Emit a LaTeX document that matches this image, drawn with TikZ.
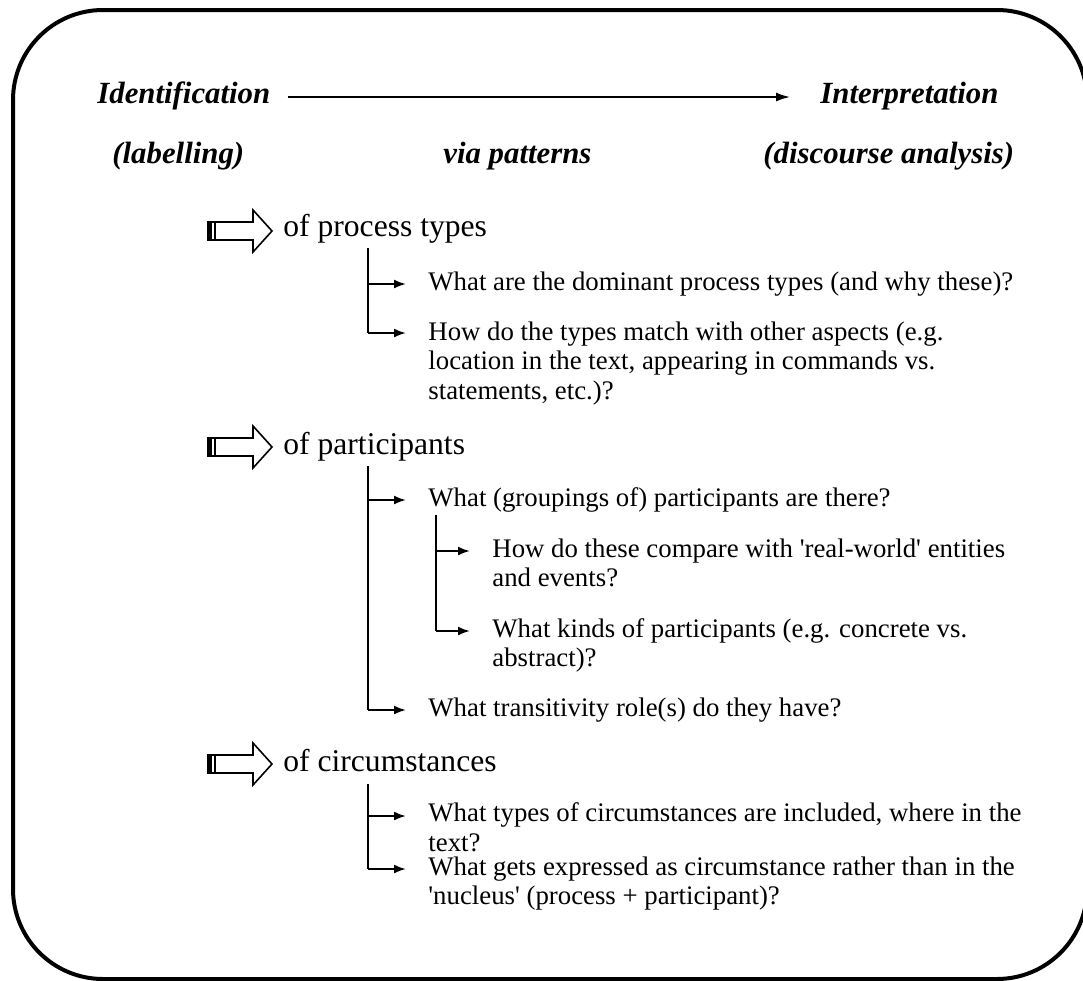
\documentclass[tikz,border=0pt]{standalone}
\usepackage{fontspec}
\setmainfont{Liberation Serif}
\usetikzlibrary{arrows.meta}
\begin{document}
\begin{tikzpicture}[x=0.5pt,y=-0.5pt,
  hdr/.style={font=\fontsize{15.4}{18}\selectfont\bfseries\itshape, inner sep=0pt, anchor=base west},
  sub/.style={font=\fontsize{15.8}{19}\selectfont, inner sep=0pt, anchor=base west},
  q/.style={font=\fontsize{13.4}{14.75}\selectfont, inner sep=0pt, anchor=base west, align=left},
  trunk/.style={line width=1.4pt},
  arr/.style={line width=1pt, -{Latex[length=6pt,width=4.5pt]}, shorten >=11pt},
  toparr/.style={line width=0.8pt, -{Latex[length=7pt,width=4.5pt]}},
  barrow/.pic={
    \draw[line width=0.8pt, line join=miter] (0,-9) -- (45,-9) -- (45,-21) -- (64,0) -- (45,21) -- (45,9) -- (0,9) -- cycle;
    \fill (0,-9) rectangle (4,9);
    \draw[line width=0.6pt] (7,-9) -- (7,9);
  }]
\useasboundingbox (0,0) rectangle (1083,981);
\draw[line width=2pt, rounded corners=45pt] (13,10) rectangle (1087,979);

% header
\node[hdr] (idf) at (97,103) {Identification};
\node[hdr] (int) at (820,103) {Interpretation};
\node[hdr] (lab) at (112,163) {(labelling)};
\node[hdr] (via) at (443,163) {via patterns};
\node[hdr] (dis) at (763,163) {(discourse analysis)};
\coordinate (ay) at (0,97);
\draw[toparr] ([xshift=8.5pt]ay -| idf.east) -- ([xshift=-15pt]ay -| int.west);

% section 1
\pic (b1) at (208,231) {barrow};
\node[sub] (s1) at (283,236) {of process types};
\coordinate (t1) at (368,248);
\coordinate (a11) at (368,284);
\coordinate (a12) at (368,333);
\node[q] (q11) at (428,290) {What are the dominant process types (and why these)?};
\node[q] (q12) at (428,399) {How do the types match with other aspects (e.g.\\location in the text, appearing in commands vs.\\statements, etc.)?};
\draw[arr] (a11) -- (a11 -| q11.west);
\draw[trunk] (t1) -- (a12);
\draw[arr] (a12) -- (a12 -| q11.west);

% section 2
\pic (b2) at (208,447) {barrow};
\node[sub] (s2) at (283,454) {of participants};
\coordinate (t2) at (368,466);
\coordinate (a21) at (368,500);
\coordinate (a22) at (368,710);
\node[q] (q21) at (428,506) {What (groupings of) participants are there?};
\node[q] (q22) at (428,716) {What transitivity role(s) do they have?};
\draw[arr] (a21) -- (a21 -| q21.west);
\draw[trunk] (t2) -- (a22);
\draw[arr] (a22) -- (a22 -| q21.west);
\coordinate (t3) at (436,515);
\coordinate (a31) at (436,551);
\coordinate (a32) at (436,631);
\node[q] (q31) at (492,586.5) {How do these compare with \textquotesingle real-world\textquotesingle{} entities\\and events?};
\node[q] (q32) at (492,666.5) {What kinds of participants (e.g. concrete vs.\\abstract)?};
\draw[arr] (a31) -- (a31 -| q31.west);
\draw[trunk] (t3) -- (a32);
\draw[arr] (a32) -- (a32 -| q31.west);

% section 3
\pic (b3) at (208,764) {barrow};
\node[sub] (s3) at (283,771) {of circumstances};
\coordinate (t4) at (368,784);
\coordinate (a41) at (368,816);
\coordinate (a42) at (368,869);
\node[q] (q41) at (428,851) {What types of circumstances are included, where in the\\text?};
\node[q] (q42) at (428,904.5) {What gets expressed as circumstance rather than in the\\\textquotesingle nucleus\textquotesingle{} (process + participant)?};
\draw[arr] (a41) -- (a41 -| q41.west);
\draw[trunk] (t4) -- (a42);
\draw[arr] (a42) -- (a42 -| q41.west);
\end{tikzpicture}
\end{document}
